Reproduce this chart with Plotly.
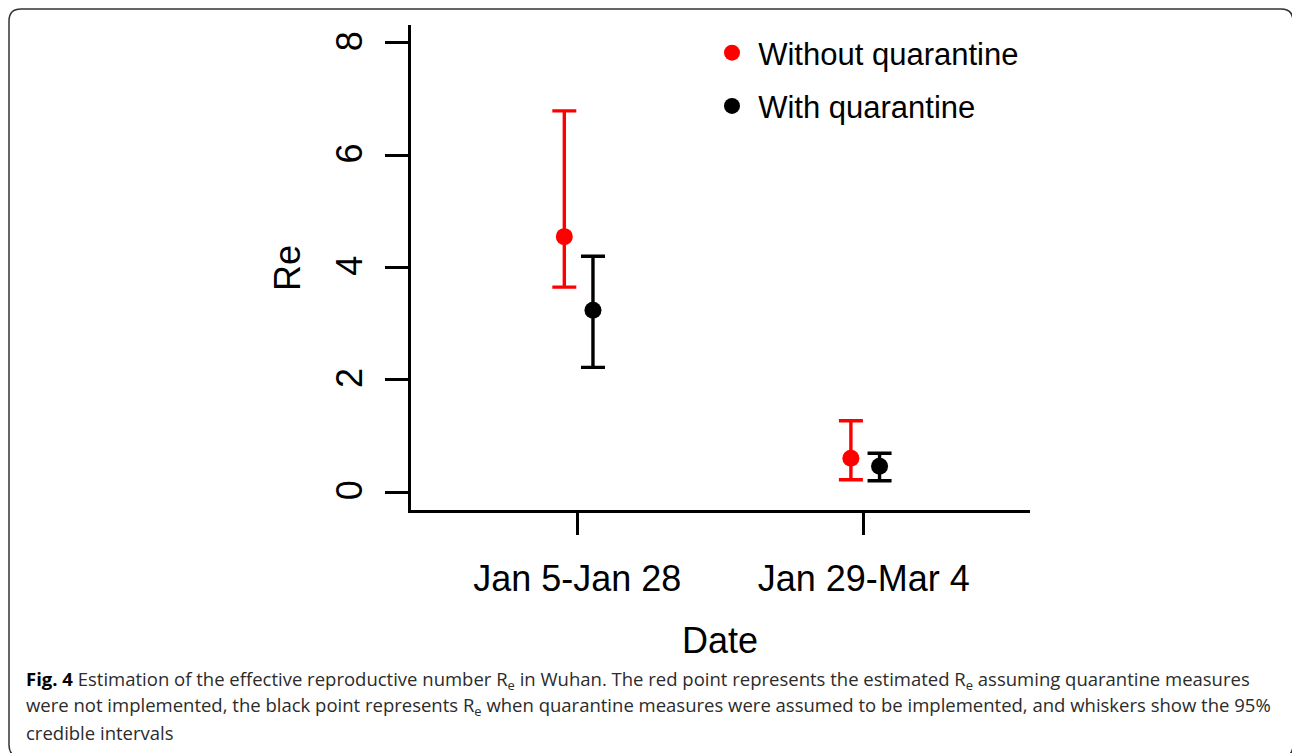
import plotly.graph_objects as go

# ---- data ----
periods = ["Jan 5-Jan 28", "Jan 29-Mar 4"]
re_without = [4.55, 0.60]
re_without_lo = [3.65, 0.22]
re_without_hi = [6.79, 1.27]
re_with = [3.24, 0.46]
re_with_lo = [2.22, 0.20]
re_with_hi = [4.20, 0.69]
y_ticks = [0, 2, 4, 6, 8]
y_tick_labels = ["0", "2", "4", "6", "8"]

W, H = 1292, 753
L, R, T, B = 411, W - 1030, 25, H - 510

pos = [i + 1 for i in range(len(periods))]
x_red = [p - 0.045 for p in pos]
x_blk = [p + 0.055 for p in pos]

fig = go.Figure()
fig.add_trace(go.Scatter(
    x=x_red, y=re_without, mode="markers", name="\u2009Without quarantine",
    legendgroup="a",
    marker=dict(color="#ff0000", size=17),
    error_y=dict(type="data", symmetric=False,
                 array=[h - v for h, v in zip(re_without_hi, re_without)],
                 arrayminus=[v - l for l, v in zip(re_without_lo, re_without)],
                 color="#ff0000", thickness=3.4, width=12),
))
fig.add_trace(go.Scatter(
    x=x_blk, y=re_with, mode="markers", name="\u2009With quarantine",
    legendgroup="b",
    marker=dict(color="#000000", size=17),
    error_y=dict(type="data", symmetric=False,
                 array=[h - v for h, v in zip(re_with_hi, re_with)],
                 arrayminus=[v - l for l, v in zip(re_with_lo, re_with)],
                 color="#000000", thickness=3.4, width=12),
))

pw, ph = W - L - R, H - T - B


def px(xp):
    return (xp - L) / pw


def py(yp):
    return (H - B - yp) / ph


# rounded border around the whole figure (pixel geometry -> paper coords)
x0, y0, x1, y1, r = 9, 9, 1293, 757, 12
path = (f"M {px(x0 + r)},{py(y0)} L {px(x1 - r)},{py(y0)} "
        f"Q {px(x1)},{py(y0)} {px(x1)},{py(y0 + r)} "
        f"L {px(x1)},{py(y1 - r)} Q {px(x1)},{py(y1)} {px(x1 - r)},{py(y1)} "
        f"L {px(x0 + r)},{py(y1)} Q {px(x0)},{py(y1)} {px(x0)},{py(y1 - r)} "
        f"L {px(x0)},{py(y0 + r)} Q {px(x0)},{py(y0)} {px(x0 + r)},{py(y0)} Z")
fig.add_shape(type="path", path=path, xref="paper", yref="paper",
              line=dict(color="#333333", width=1.5), layer="above")

axis_font = dict(family="Liberation Sans, Arial, sans-serif", size=36, color="#000")

fig.add_annotation(text="Re", xref="paper", yref="paper", x=px(287), y=py(268),
                   textangle=-90, showarrow=False, font=axis_font,
                   xanchor="center", yanchor="middle")
fig.add_annotation(text="Date", xref="paper", yref="paper", x=px(720), y=py(640),
                   showarrow=False, font=axis_font,
                   xanchor="center", yanchor="middle")

cap_font = dict(family="Open Sans, Noto Sans, sans-serif", size=18.5, color="#2b2b2b")
cap_lines = [
    "<b style='color:#000'>Fig. 4</b> Estimation of the effective reproductive number R<sub>e</sub> in Wuhan. "
    "The red point represents the estimated R<sub>e</sub> assuming quarantine measures",
    "were not implemented, the black point represents R<sub>e</sub> when quarantine measures "
    "were assumed to be implemented, and whiskers show the 95%",
    "credible intervals",
]
for i, line in enumerate(cap_lines):
    fig.add_annotation(text=line, xref="paper", yref="paper", x=px(24),
                       y=py(680 + 26 * i), showarrow=False, font=cap_font,
                       xanchor="left", yanchor="middle", align="left")

fig.update_layout(
    width=W, height=H,
    margin=dict(l=L, r=R, t=T, b=B, autoexpand=False),
    paper_bgcolor="white", plot_bgcolor="white",
    showlegend=True,
    legend=dict(x=px(712), y=py(26), xanchor="left", yanchor="top",
                font=dict(family="Liberation Sans, Arial, sans-serif", size=31, color="#000"),
                tracegroupgap=10, traceorder="grouped", bgcolor="rgba(0,0,0,0)",
                itemsizing="trace"),
    xaxis=dict(range=[0.42, 2.58], tickvals=pos, ticktext=periods,
               showline=True, linecolor="#000", linewidth=2.5,
               ticks="outside", ticklen=22, tickwidth=2.5, tickcolor="#000",
               showgrid=False, zeroline=False, tickfont=axis_font,
               ticklabelstandoff=13),
    yaxis=dict(range=[-0.32, 8.32], tickvals=y_ticks,
               ticktext=[t + "\u2009" for t in y_tick_labels],
               showline=True, linecolor="#000", linewidth=2.5,
               ticks="outside", ticklen=23, tickwidth=2.5, tickcolor="#000",
               showgrid=False, zeroline=False, tickfont=axis_font, tickangle=-90,
               ticklabelstandoff=9),
)

fig.write_html("out.html", config={"displayModeBar": False},
               post_script="document.body.style.margin='0px';document.body.style.overflow='hidden';")
